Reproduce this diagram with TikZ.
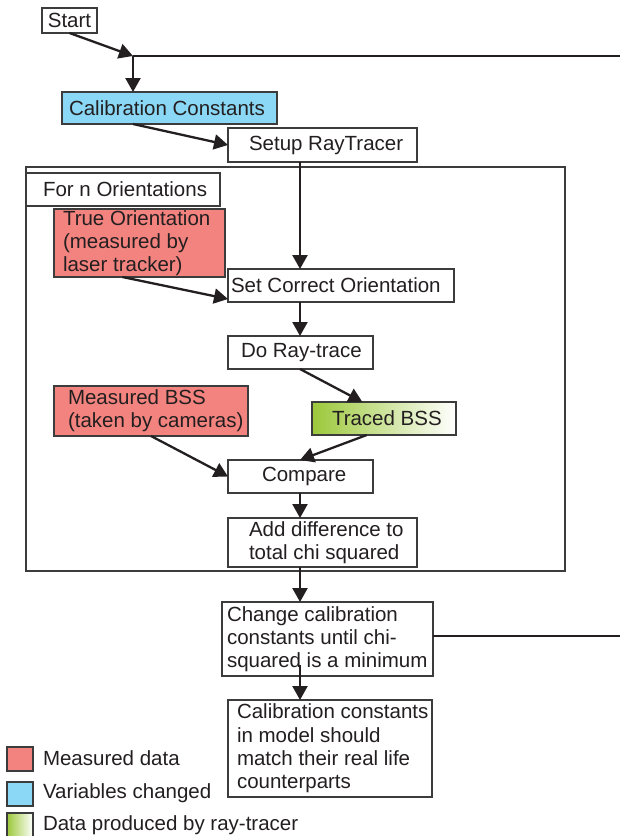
\documentclass[tikz,border=0pt]{standalone}
\usepackage{fontspec}
\setmainfont{Liberation Sans}
\usetikzlibrary{arrows.meta,calc}
\definecolor{ink}{HTML}{231F20}
\definecolor{edge}{HTML}{3C3C3C}
\definecolor{meas}{HTML}{F3837E}
\definecolor{vars}{HTML}{8AD8F5}
\definecolor{trg}{HTML}{9CC83A}
\begin{document}
\begin{tikzpicture}[x=1pt,y=-1pt,
  every node/.style={inner sep=0pt, outer sep=0pt, text=ink},
  bx/.style n args={2}{draw=edge, line width=1.2pt, anchor=north west, minimum width=#1pt, minimum height=#2pt},
  lbl/.style={font=\fontsize{20.5}{23.3}\selectfont, align=left, anchor=west},
  arr/.style={draw=ink, line width=2.3pt, -{Triangle[length=14pt,width=15pt]}},
  ln/.style={draw=ink, line width=2.3pt}]
\useasboundingbox (0,0) rectangle (620,836);
\coordinate (col) at (300,0);
\coordinate (J) at (133,56);
\coordinate (R1) at (620,56);
\coordinate (R2) at (620,636);

% loop frame
\node[bx={539}{404}] (loop) at (26,167) {};

% boxes
\node[bx={55}{25}, fill=white] (start) at (42,8) {};
\node[lbl, anchor=center] (start-t) at (start.center) {Start};
\node[bx={215}{32}, fill=vars] (cal) at (62,92) {};
\node[lbl] (cal-t) at ($(cal.west)+(7,0)$) {Calibration Constants};
\node[bx={189}{34}, fill=white] (setup) at (228,128) {};
\node[lbl] (setup-t) at ($(setup.west)+(21,0)$) {Setup RayTracer};
\node[bx={194}{33}, fill=white] (forn) at (26,173) {};
\node[lbl] (forn-t) at ($(forn.west)+(17,0)$) {For n Orientations};
\node[bx={171}{68}, fill=meas] (to) at (54,209) {};
\node[lbl] (to-t) at ($(to.west)+(9,0)$) {True Orientation\\(measured by\\laser tracker)};
\node[bx={226}{33}, fill=white] (sco) at (228,269) {};
\node[lbl] (sco-t) at ($(sco.west)+(3,0)$) {Set Correct Orientation};
\node[bx={145}{33}, fill=white] (dort) at (228,336) {};
\node[lbl] (dort-t) at ($(dort.west)+(13,0)$) {Do Ray-trace};
\node[bx={194}{50}, fill=meas] (mbss) at (54,386) {};
\node[lbl] (mbss-t) at ($(mbss.west)+(14,0)$) {Measured BSS\\(taken by cameras)};
\node[bx={144}{33}, left color=trg, right color=white] (traced) at (312,402) {};
\node[lbl] (traced-t) at ($(traced.west)+(20,0)$) {Traced BSS};
\node[bx={145}{33}, fill=white] (cmp) at (228,460) {};
\node[lbl] (cmp-t) at ($(cmp.west)+(34,0)$) {Compare};
\node[bx={189}{49}, fill=white] (add) at (228,518) {};
\node[lbl] (add-t) at ($(add.west)+(21,0)$) {Add difference to\\total chi squared};
\node[bx={211}{74}, fill=white] (chg) at (222,602) {};
\node[lbl] (chg-t) at ($(chg.west)+(5,0)$) {Change calibration\\constants until chi-\\squared is a minimum};
\node[bx={204}{97}, fill=white] (fin) at (228,700) {};
\node[lbl] (fin-t) at ($(fin.west)+(9,0)$) {Calibration constants\\in model should\\match their real life\\counterparts};

% connectors
\draw[arr] (start.south) -- (J);
\draw[ln] (J) -- (R1);
\draw[arr] (J) -- (cal.north -| J);
\draw[arr] (cal.south -| J) -- (setup.west);
\draw[arr] (setup.south -| col) -- (sco.north -| col);
\draw[arr] ($(to.south west)!0.4!(to.south east)$) -- ($(sco.south west)+(0,-3)$);
\draw[arr] (sco.south -| col) -- (dort.north -| col);
\draw[arr] (dort.south -| col) -- ($(traced.north west)!0.35!(traced.north east)$);
\draw[arr] ($(traced.south west)!0.38!(traced.south east)$) -- (cmp.north -| col);
\draw[arr] (mbss.south) -- (cmp.west);
\draw[arr] (cmp.south -| col) -- (add.north -| col);
\draw[arr] (add.south -| col) -- (chg.north -| col);
\draw[ln] ($(chg.east)+(0,-3)$) -- (R2);
\draw[arr] ($(chg.south -| col)+(0,-11)$) -- (fin.north -| col);

% legend
\node[bx={26}{24}, fill=meas] (lg1) at (7,747) {};
\node[bx={26}{24}, fill=vars] (lg2) at (7,782) {};
\node[bx={26}{24}, left color=trg, right color=white] (lg3) at (7,813) {};
\node[lbl, anchor=base west] (lg1-t) at (43,765) {Measured data};
\node[lbl, anchor=base west] (lg2-t) at (43,798) {Variables changed};
\node[lbl, anchor=base west] (lg3-t) at (43,830) {Data produced by ray-tracer};
\end{tikzpicture}
\end{document}
